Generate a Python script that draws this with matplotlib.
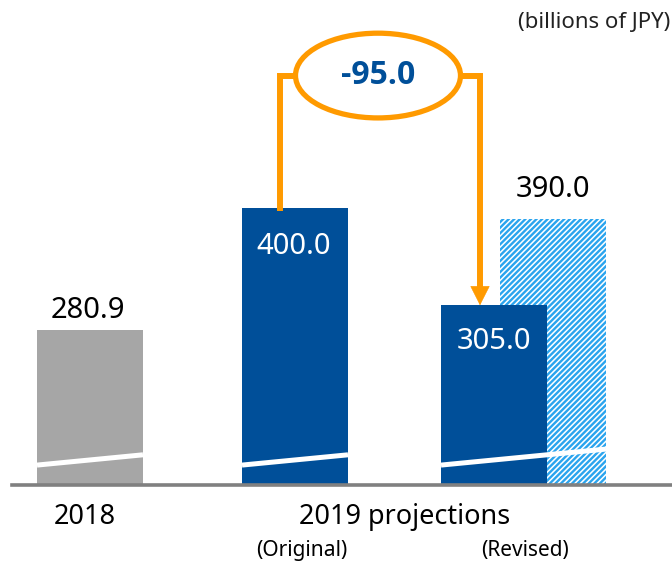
# -*- coding: utf-8 -*-
"""
Operating income projection: 2018 actual vs 2019 (original / revised).
Broken y-axis bars with an orange "-95.0" difference bracket.
"""

import matplotlib
matplotlib.use("Agg")
import matplotlib.pyplot as plt
from matplotlib.patches import Ellipse
import matplotlib.transforms as mtransforms

# ===== data =====
bar_labels = ["2018", "2019 original", "2019 revised", "2019 revised (alt)"]
bar_values = [280.9, 400.0, 305.0, 390.0]
diff_label = "-95.0"
unit_label = "(billions of JPY)"
group_labels = ["2018", "2019 projections"]
sub_labels = ["(Original)", "(Revised)"]

# ===== layout / style =====
plt.rcParams["font.family"] = ["Noto Sans", "DejaVu Sans"]
GRAY = "#A6A6A6"
BLUE = "#004F99"
LIGHT = "#2AA4EE"
ORANGE = "#FF9A00"
AXIS = "#808080"

x_pos = [0.0, 1.025, 2.02, 2.315]
width = 0.53
y_lo, y_hi = 129.0, 604.0


def main() -> None:
    plt.rcParams["hatch.linewidth"] = 1.7
    fig = plt.figure(figsize=(6.72, 5.66), dpi=100)
    ax = fig.add_axes([12 / 672, 81 / 566, 660 / 672, 485 / 566])
    ax.set_xlim(-0.39, 2.91)
    ax.set_ylim(y_lo, y_hi)

    # bars (hatched one behind the solid revised bar)
    ax.bar(x_pos[3], bar_values[3], width, color="white", edgecolor=LIGHT,
           hatch="//////", linewidth=0, zorder=1)
    ax.bar(x_pos[:3], bar_values[:3], width, color=[GRAY, BLUE, BLUE],
           linewidth=0, zorder=2)

    # axis-break marks (white slanted strokes)
    slope = 19.0
    y_break = 148.5
    for xl, xr in [(x_pos[0] - width / 2, x_pos[0] + width / 2),
                   (x_pos[1] - width / 2, x_pos[1] + width / 2),
                   (x_pos[2] - width / 2, x_pos[3] + width / 2)]:
        ax.plot([xl, xr], [y_break, y_break + slope * (xr - xl)],
                color="white", lw=3.6, solid_capstyle="butt", zorder=3)

    # value labels
    ax.annotate(f"{bar_values[0]:.1f}", (x_pos[0], bar_values[0]),
                xytext=(-2, 19), textcoords="offset pixels",
                ha="center", va="center", fontsize=21, color="black")
    ax.annotate(f"{bar_values[3]:.1f}", (x_pos[3], bar_values[3]),
                xytext=(0, 29), textcoords="offset pixels",
                ha="center", va="center", fontsize=21, color="black")
    ax.annotate(f"{bar_values[1]:.1f}", (x_pos[1], bar_values[1]),
                xytext=(-1, -38), textcoords="offset pixels",
                ha="center", va="center", fontsize=21, color="white", zorder=4)
    ax.annotate(f"{bar_values[2]:.1f}", (x_pos[2], bar_values[2]),
                xytext=(0, -36), textcoords="offset pixels",
                ha="center", va="center", fontsize=21, color="white", zorder=4)

    # difference bracket
    y_br = 530.0
    x_l, x_r = 0.95, 1.95
    e_x, e_w, e_h = 1.44, 0.825, 83.0
    ax.plot([x_l, x_l, e_x - e_w / 2], [bar_values[1], y_br, y_br],
            color=ORANGE, lw=4.3, solid_joinstyle="miter", zorder=2)
    ax.plot([e_x + e_w / 2, x_r, x_r], [y_br, y_br, bar_values[2] + 18],
            color=ORANGE, lw=4.3, solid_joinstyle="miter", zorder=2)
    ax.annotate("", xy=(x_r, bar_values[2]), xytext=(x_r, bar_values[2] + 20),
                arrowprops=dict(arrowstyle="-|>,head_length=0.65,head_width=0.33",
                                mutation_scale=20, color=ORANGE, lw=0.5,
                                shrinkA=0, shrinkB=0), zorder=3)
    ax.add_patch(Ellipse((e_x, y_br), e_w, e_h, facecolor="white",
                         edgecolor=ORANGE, lw=3.8, zorder=3))
    ax.text(e_x, y_br, diff_label, ha="center", va="center", fontsize=23,
            fontweight="bold", family=["Open Sans", "DejaVu Sans"],
            color=BLUE, zorder=4)

    # axes styling
    for side in ["top", "right", "left"]:
        ax.spines[side].set_visible(False)
    ax.spines["bottom"].set_color(AXIS)
    ax.spines["bottom"].set_linewidth(2.6)
    ax.spines["bottom"].set_zorder(5)
    ax.set_xticks([])
    ax.set_yticks([])

    # category labels under the axis
    trans = mtransforms.blended_transform_factory(ax.transData, ax.transAxes)
    ax.text(-0.025, -0.066, group_labels[0], transform=trans, ha="center",
            va="center", fontsize=19.5)
    ax.text(1.575, -0.066, group_labels[1], transform=trans, ha="center",
            va="center", fontsize=19.5)
    ax.text(1.06, -0.136, sub_labels[0], transform=trans, ha="center",
            va="center", fontsize=15)
    ax.text(2.175, -0.136, sub_labels[1], transform=trans, ha="center",
            va="center", fontsize=15)

    fig.text(670 / 672, 1 - 22 / 566, unit_label, ha="right", va="center",
             fontsize=16, color="#222222")

    fig.savefig("out.png", dpi=100)


if __name__ == "__main__":
    main()
